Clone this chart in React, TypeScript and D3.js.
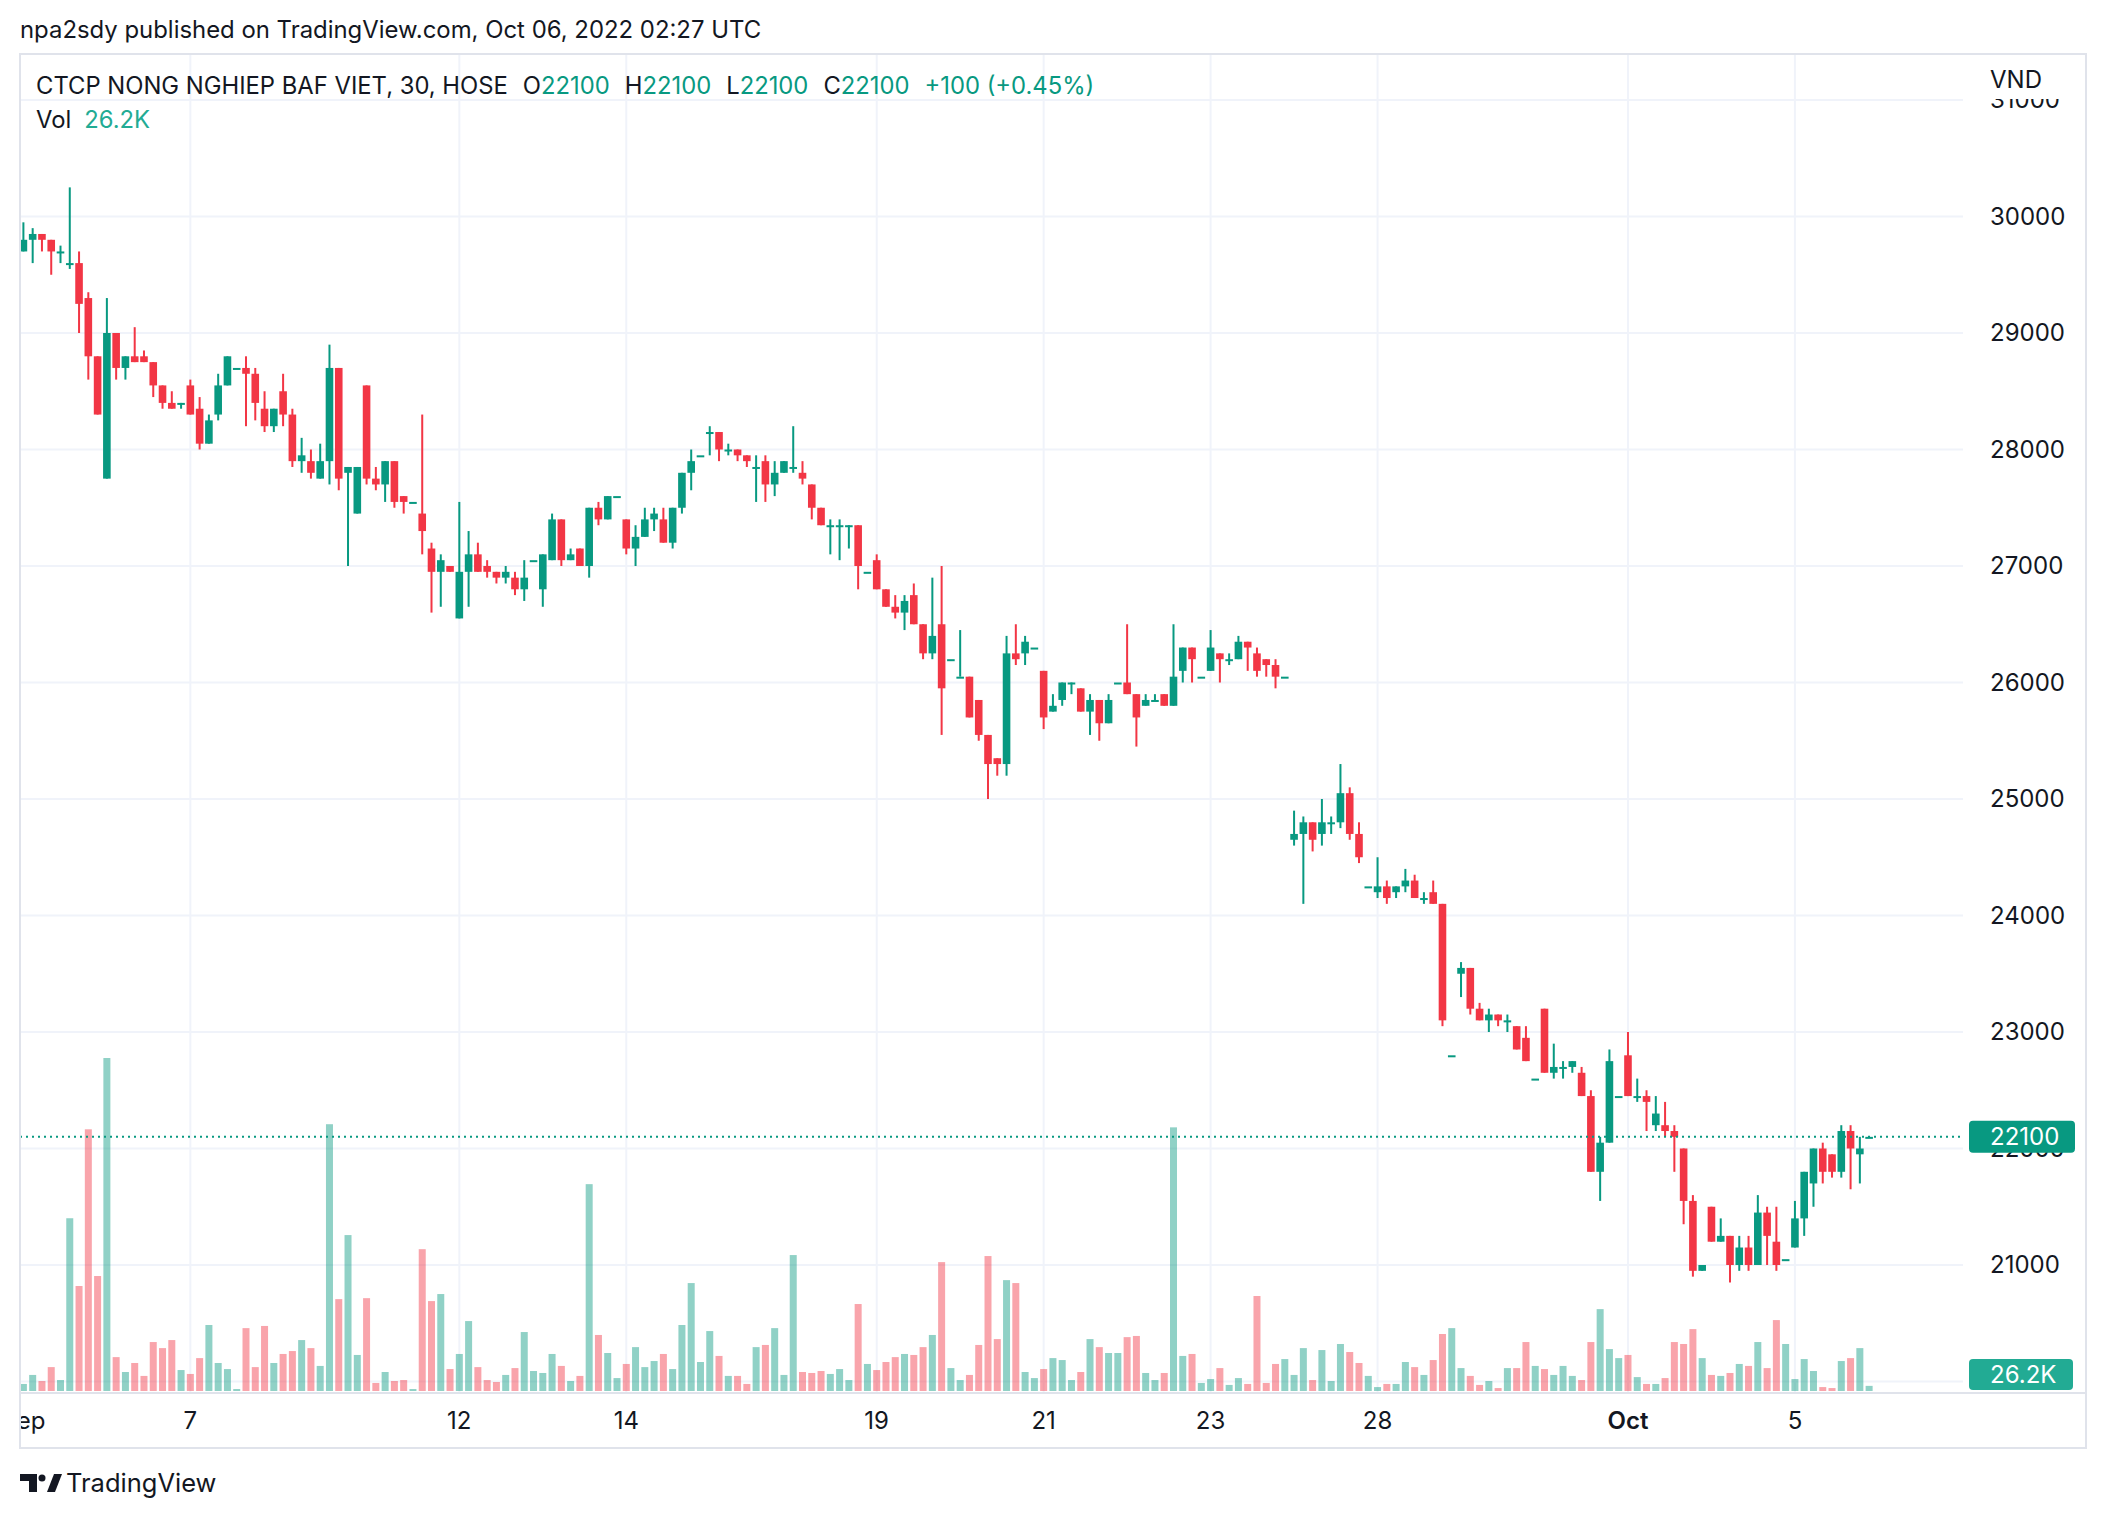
import React from 'react';
import * as d3 from 'd3';

const opens = [
  29700, 29800, 29850, 29800, 29700, 29600, 29600, 29300, 28800, 27750,
  29000, 28700, 28800, 28800, 28750, 28550, 28400, 28400, 28550, 28350,
  28050, 28300, 28550, 28700, 28700, 28650, 28350, 28200, 28500, 28300,
  27900, 27900, 27750, 27900, 28700, 27800, 27450, 28550, 27750, 27700,
  27900, 27600, 27550, 27450, 27150, 26950, 27000, 26550, 26950, 27100,
  27000, 26950, 26900, 26900, 26800, 27050, 26800, 27050, 27400, 27050,
  27150, 27000, 27500, 27400, 27600, 27400, 27150, 27250, 27400, 27400,
  27200, 27500, 27800, 27950, 28150, 28150, 28000, 28000, 27950, 27850,
  27900, 27700, 27800, 27850, 27800, 27700, 27500, 27350, 27350, 27350,
  27350, 26950, 27050, 26800, 26650, 26600, 26750, 26500, 26250, 26500,
  26200, 26050, 26050, 25850, 25550, 25350, 25300, 26250, 26250, 26300,
  26100, 25750, 25850, 26000, 25950, 25750, 25850, 25650, 26000, 26000,
  25900, 25800, 25850, 25900, 25800, 26100, 26300, 26050, 26100, 26250,
  26200, 26200, 26350, 26250, 26200, 26150, 26050, 24650, 24700, 24800,
  24700, 24800, 24800, 25050, 24700, 24250, 24200, 24250, 24200, 24250,
  24300, 24150, 24200, 24100, 22800, 23500, 23550, 23200, 23100, 23150,
  23100, 23050, 22950, 22600, 23200, 22650, 22700, 22700, 22650, 22450,
  21800, 22050, 22450, 22800, 22450, 22450, 22200, 22200, 22150, 22000,
  21550, 20950, 21500, 21200, 21250, 21000, 21150, 21000, 21450, 21200,
  21050, 21150, 21400, 21700, 22000, 21950, 21800, 22150, 21950, 22100,
];

const highs = [
  29950, 29900, 29850, 29800, 29750, 30250, 29700, 29350, 28800, 29300,
  29000, 28800, 29050, 28850, 28750, 28550, 28500, 28400, 28600, 28450,
  28300, 28650, 28800, 28700, 28800, 28700, 28500, 28350, 28650, 28350,
  28100, 28000, 28050, 28900, 28700, 27850, 27850, 28550, 27850, 27900,
  27900, 27600, 27550, 28300, 27200, 27100, 27000, 27550, 27300, 27200,
  27050, 26950, 27000, 26950, 27050, 27050, 27100, 27450, 27400, 27150,
  27150, 27500, 27550, 27600, 27600, 27400, 27350, 27500, 27500, 27500,
  27500, 27800, 28000, 27950, 28200, 28150, 28050, 28000, 27950, 27950,
  27950, 27900, 27900, 28200, 27900, 27700, 27500, 27400, 27400, 27350,
  27350, 26950, 27100, 26800, 26750, 26750, 26850, 26500, 26900, 27000,
  26200, 26450, 26050, 25850, 25550, 25350, 26400, 26500, 26400, 26300,
  26100, 25900, 26000, 26000, 25950, 25900, 25850, 25900, 26000, 26500,
  25900, 25900, 25900, 25900, 26500, 26300, 26300, 26050, 26450, 26250,
  26250, 26400, 26350, 26300, 26200, 26200, 26050, 24900, 24850, 24800,
  25000, 24850, 25300, 25100, 24800, 24250, 24500, 24300, 24250, 24400,
  24350, 24200, 24300, 24100, 22800, 23600, 23550, 23250, 23200, 23150,
  23150, 23050, 23050, 22600, 23200, 22900, 22750, 22750, 22700, 22500,
  22100, 22850, 22450, 23000, 22600, 22500, 22450, 22400, 22200, 22000,
  21600, 21000, 21500, 21400, 21250, 21250, 21250, 21600, 21500, 21500,
  21050, 21550, 21800, 22000, 22050, 21950, 22200, 22200, 22100, 22100,
];

const lows = [
  29700, 29600, 29700, 29500, 29600, 29550, 29000, 28600, 28300, 27750,
  28600, 28600, 28750, 28750, 28450, 28350, 28350, 28350, 28300, 28000,
  28050, 28250, 28550, 28700, 28200, 28250, 28150, 28150, 28200, 27850,
  27800, 27750, 27750, 27700, 27650, 27000, 27450, 27700, 27650, 27550,
  27500, 27450, 27550, 27100, 26600, 26650, 26950, 26550, 26650, 26950,
  26900, 26850, 26850, 26750, 26700, 27050, 26650, 27050, 27000, 27050,
  27000, 26900, 27350, 27400, 27600, 27100, 27000, 27250, 27300, 27200,
  27150, 27450, 27650, 27950, 27950, 27900, 27950, 27900, 27850, 27550,
  27550, 27600, 27800, 27800, 27700, 27400, 27350, 27100, 27050, 27150,
  26800, 26950, 26800, 26650, 26550, 26450, 26500, 26200, 26200, 25550,
  26200, 26050, 25700, 25500, 25000, 25200, 25200, 26150, 26150, 26300,
  25600, 25750, 25800, 25900, 25750, 25550, 25500, 25650, 26000, 25900,
  25450, 25800, 25850, 25800, 25800, 26000, 26000, 26050, 26100, 26000,
  26150, 26200, 26100, 26050, 26050, 25950, 26050, 24600, 24100, 24550,
  24600, 24700, 24750, 24650, 24450, 24250, 24150, 24100, 24150, 24200,
  24150, 24100, 24100, 23050, 22800, 23300, 23150, 23100, 23000, 23050,
  23000, 22850, 22750, 22600, 22650, 22600, 22600, 22650, 22450, 21800,
  21550, 22050, 22450, 22450, 22400, 22150, 22150, 22100, 21800, 21350,
  20900, 20950, 21200, 21200, 20850, 20950, 20950, 21000, 21000, 20950,
  21050, 21150, 21250, 21500, 21700, 21750, 21750, 21650, 21700, 22100,
];

const closes = [
  29800, 29850, 29800, 29700, 29700, 29600, 29250, 28800, 28300, 29000,
  28700, 28800, 28750, 28750, 28550, 28400, 28350, 28400, 28300, 28050,
  28250, 28550, 28800, 28700, 28650, 28400, 28200, 28350, 28300, 27900,
  27950, 27800, 27900, 28700, 27750, 27850, 27850, 27750, 27700, 27900,
  27550, 27550, 27550, 27300, 26950, 27050, 26950, 26950, 27100, 26950,
  26950, 26900, 26950, 26800, 26900, 27050, 27100, 27400, 27050, 27100,
  27000, 27500, 27400, 27600, 27600, 27150, 27250, 27400, 27450, 27200,
  27500, 27800, 27900, 27950, 28150, 28000, 28000, 27950, 27900, 27850,
  27700, 27800, 27900, 27850, 27750, 27500, 27350, 27350, 27350, 27350,
  27000, 26950, 26800, 26650, 26600, 26700, 26500, 26250, 26400, 25950,
  26200, 26050, 25700, 25550, 25300, 25300, 26250, 26200, 26350, 26300,
  25700, 25800, 26000, 26000, 25750, 25850, 25650, 25850, 26000, 25900,
  25700, 25850, 25850, 25800, 26050, 26300, 26200, 26050, 26300, 26200,
  26200, 26350, 26300, 26100, 26150, 26050, 26050, 24700, 24800, 24650,
  24800, 24800, 25050, 24700, 24500, 24250, 24250, 24150, 24250, 24300,
  24150, 24150, 24100, 23100, 22800, 23550, 23200, 23100, 23150, 23100,
  23100, 22850, 22750, 22600, 22650, 22700, 22700, 22750, 22450, 21800,
  22050, 22750, 22450, 22450, 22450, 22400, 22300, 22150, 22100, 21550,
  20950, 21000, 21200, 21250, 21000, 21150, 21000, 21450, 21250, 21000,
  21050, 21400, 21800, 22000, 21800, 21800, 22150, 22000, 22000, 22100,
];

// volume in thousands of shares
const volumesK = [
  36, 82, 51, 122, 56, 882, 536, 1336, 587, 1700,
  173, 97, 143, 77, 250, 219, 260, 107, 87, 168,
  337, 143, 112, 10, 321, 122, 332, 143, 189, 204,
  260, 219, 128, 1362, 469, 796, 184, 474, 41, 97,
  51, 56, 10, 724, 459, 495, 112, 189, 357, 122,
  56, 46, 82, 117, 301, 102, 92, 189, 128, 51,
  77, 1056, 286, 194, 66, 138, 224, 122, 153, 189,
  112, 337, 551, 148, 306, 179, 77, 77, 36, 224,
  235, 321, 82, 694, 97, 92, 102, 87, 112, 56,
  444, 138, 107, 148, 173, 189, 184, 224, 286, 658,
  117, 56, 82, 235, 689, 265, 566, 551, 97, 66,
  112, 168, 158, 56, 97, 265, 224, 194, 194, 275,
  281, 92, 56, 92, 1346, 179, 189, 41, 61, 117,
  31, 66, 36, 485, 41, 138, 163, 82, 219, 56,
  209, 51, 240, 199, 143, 77, 20, 36, 36, 148,
  122, 82, 158, 291, 321, 117, 77, 31, 51, 15,
  117, 117, 250, 128, 112, 82, 128, 77, 56, 250,
  418, 214, 168, 184, 71, 36, 36, 66, 250, 240,
  316, 168, 82, 77, 92, 138, 128, 250, 117, 362,
  240, 61, 163, 102, 20, 15, 153, 168, 219, 26.2,
];

const dayLabels = ['Sep', '7', '12', '14', '19', '21', '23', '28', 'Oct', '5'];
const dayStartIndex = [0, 18, 47, 65, 92, 110, 128, 146, 173, 191];
const priceTicks = [21000, 22000, 23000, 24000, 25000, 26000, 27000, 28000, 29000, 30000, 31000];

const headerText = 'npa2sdy published on TradingView.com, Oct 06, 2022 02:27 UTC';
const symbolTitle = 'CTCP NONG NGHIEP BAF VIET, 30, HOSE';
const lastPrice = 22100;
const lastVolLabel = '26.2K';

const GREEN = '#089981';
const RED = '#F23645';
const VGREEN = 'rgba(8,153,129,0.45)';
const VRED = 'rgba(242,54,69,0.45)';
const TEXT = '#131722';
const GRID = '#f0f3fa';
const BORDER = '#e0e3eb';
const FONT = 'Inter, "Noto Sans", sans-serif';

const W = 2106;
const H = 1518;
const PANE_L = 20;
const PANE_R = 1963;
const PANE_T = 54;
const PANE_B = 1393;
const FRAME_R = 2086;
const FRAME_B = 1448;

export default function App() {
  const n = closes.length;
  const x = d3.scaleLinear().domain([0, n - 1]).range([23.4, 23.4 + 9.275 * (n - 1)]);
  const y = d3.scaleLinear().domain([21000, 30000]).range([1265, 216.5]);
  const yv = d3.scaleLinear().domain([0, 1700]).range([1391, 1058]);
  const bodyW = 7.6;
  const volW = 7;

  const bars = d3.range(n).map((i) => {
    const o = opens[i], c = closes[i], h = highs[i], l = lows[i];
    const up = c >= o;
    const top = y(Math.max(o, c));
    const bot = y(Math.min(o, c));
    return { i, up, top, bh: Math.max(2, bot - top), hy: y(h), ly: y(l), cx: x(i) };
  });

  const yLast = y(lastPrice);
  const chg = closes[n - 1] - closes[n - 2];
  const chgPct = ((chg / closes[n - 2]) * 100).toFixed(2);

  return (
    <svg width={W} height={H} style={{ position: 'absolute', left: 0, top: 0, background: '#fff' }} fontFamily={FONT}>
      <defs>
        <clipPath id="pane">
          <rect x={PANE_L} y={PANE_T} width={PANE_R - PANE_L} height={PANE_B - PANE_T} />
        </clipPath>
        <clipPath id="xaxis">
          <rect x={PANE_L + 1} y={PANE_B} width={PANE_R - PANE_L} height={FRAME_B - PANE_B} />
        </clipPath>
      </defs>
      <rect x={0} y={0} width={W} height={H} fill="#fff" />

      {/* header */}
      <text x={20} y={38} fontSize={23.9} fill={TEXT}>{headerText}</text>

      {/* grid */}
      <g clipPath="url(#pane)">
        {priceTicks.concat([20000]).map((t) => (
          <line key={'h' + t} x1={PANE_L} x2={PANE_R} y1={y(t)} y2={y(t)} stroke={GRID} strokeWidth={2} />
        ))}
        {dayStartIndex.slice(1).map((d, k) => (
          <line key={'v' + k} x1={x(d)} x2={x(d)} y1={PANE_T} y2={PANE_B} stroke={GRID} strokeWidth={2} />
        ))}
      </g>

      {/* volume */}
      <g clipPath="url(#pane)">
        {bars.map((b) => (
          <rect key={'v' + b.i} x={b.cx - volW / 2} y={yv(volumesK[b.i])} width={volW}
            height={yv(0) - yv(volumesK[b.i])} fill={b.up ? VGREEN : VRED} />
        ))}
      </g>

      {/* candles */}
      <g clipPath="url(#pane)">
        {bars.map((b) => (
          <g key={'c' + b.i} fill={b.up ? GREEN : RED}>
            <rect x={b.cx - 1} y={b.hy} width={2} height={Math.max(0, b.ly - b.hy)} />
            <rect x={b.cx - bodyW / 2} y={b.top} width={bodyW} height={b.bh} />
          </g>
        ))}
        <line x1={PANE_L} x2={PANE_R} y1={yLast} y2={yLast} stroke={GREEN} strokeWidth={2} strokeDasharray="2 4" />
      </g>

      {/* legend */}
      <text x={36} y={94} fontSize={23.8} fill={TEXT}>
        <tspan>{symbolTitle}</tspan>
        <tspan dx={15}>O</tspan><tspan fill={GREEN}>{opens[n - 1]}</tspan>
        <tspan dx={15}>H</tspan><tspan fill={GREEN}>{highs[n - 1]}</tspan>
        <tspan dx={15}>L</tspan><tspan fill={GREEN}>{lows[n - 1]}</tspan>
        <tspan dx={15}>C</tspan><tspan fill={GREEN}>{closes[n - 1]}</tspan>
        <tspan dx={15} fill={GREEN}>{'+' + chg + ' (+' + chgPct + '%)'}</tspan>
      </text>
      <text x={36} y={128} fontSize={23.8} fill={TEXT}>
        <tspan>Vol</tspan>
        <tspan dx={13} fill="#22ab94">{lastVolLabel}</tspan>
      </text>

      {/* price axis */}
      {priceTicks.map((t) => (
        <text key={'t' + t} x={1990} y={y(t)} dy="0.35em" fontSize={24} fill={TEXT}>{t}</text>
      ))}
      <rect x={PANE_R + 2} y={PANE_T + 2} width={FRAME_R - PANE_R - 4} height={43} fill="#fff" />
      <text x={1990} y={80} dy="0.35em" fontSize={24} fill={TEXT}>VND</text>

      <rect x={1969} y={yLast - 16} width={106} height={32} rx={4} fill={GREEN} />
      <text x={1990} y={yLast} dy="0.35em" fontSize={24} fill="#fff">{lastPrice}</text>

      <rect x={1969} y={1359} width={104} height={31} rx={4} fill="#22ab94" />
      <text x={1990} y={1375} dy="0.35em" fontSize={24} fill="#fff">{lastVolLabel}</text>

      {/* x axis */}
      <line x1={PANE_L} x2={FRAME_R} y1={PANE_B} y2={PANE_B} stroke={BORDER} strokeWidth={2} />
      <g clipPath="url(#xaxis)">
        {dayStartIndex.map((d, k) => (
          <text key={'x' + k} x={x(d)} y={1421} dy="0.35em" textAnchor="middle" fontSize={24}
            fontWeight={dayLabels[k] === 'Oct' ? 600 : 400} fill={TEXT}>{dayLabels[k]}</text>
        ))}
      </g>

      {/* frame */}
      <rect x={PANE_L} y={PANE_T} width={FRAME_R - PANE_L} height={FRAME_B - PANE_T} fill="none" stroke={BORDER} strokeWidth={2} />

      {/* footer logo */}
      <g fill={TEXT}>
        <path d="M20 1474 H37 V1492 H29 V1481 H20 Z" />
        <circle cx={42} cy={1478} r={3.5} />
        <path d="M47 1492 L54 1474 H62 L55 1492 Z" />
      </g>
      <text x={66} y={1492} fontSize={25.5} fill={TEXT}>TradingView</text>
    </svg>
  );
}
